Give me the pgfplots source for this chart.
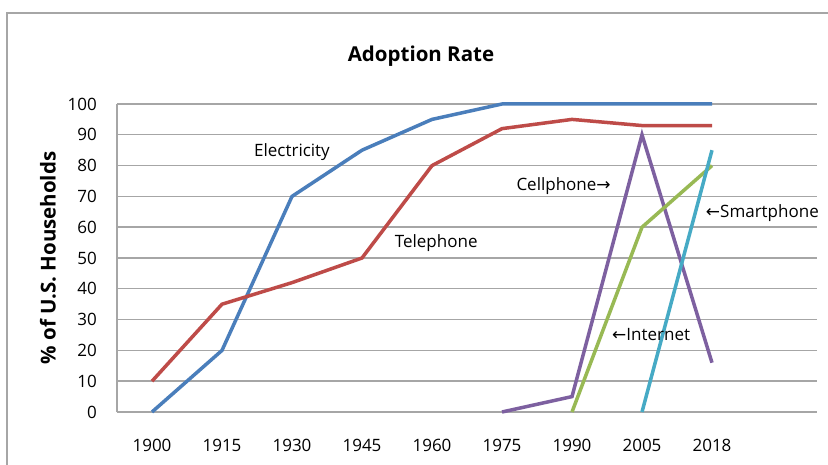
\documentclass[border=0pt]{standalone}
\usepackage{pgfplots}
\pgfplotsset{compat=1.18}
\usepackage{fontspec}
\setmainfont{Open Sans}
\newfontfamily\arrowfont{DejaVu Sans}
\definecolor{elec}{HTML}{4A7EBB}
\definecolor{tele}{HTML}{BE4B48}
\definecolor{cell}{HTML}{7D60A0}
\definecolor{inet}{HTML}{98B954}
\definecolor{smart}{HTML}{46AAC5}
\definecolor{gridc}{HTML}{A6A6A6}
\newcommand{\ra}{{\arrowfont\fontsize{17bp}{18bp}\selectfont →}}
\newcommand{\la}{{\arrowfont\fontsize{17bp}{18bp}\selectfont ←}}
\begin{document}
\begin{tikzpicture}
\useasboundingbox (0,0) rectangle (828bp,465bp);
\fill[white] (0,0) rectangle (828bp,465bp);
\draw[gridc, line width=1.6bp] (7bp,-2bp) -- (7bp,452bp) -- (830bp,452bp);
\node[anchor=base, font=\bfseries\fontsize{20.5bp}{24bp}\selectfont] at (421bp,403bp) {Adoption Rate};
\node[rotate=90, font=\bfseries\fontsize{20.5bp}{24bp}\selectfont] at (48bp,207bp) {\% of U.S. Households};
\begin{axis}[
  at={(117bp,53bp)}, anchor=south west,
  scale only axis, width=700bp, height=308bp,
  xmin=-0.5, xmax=9.5, ymin=0, ymax=100,
  xtick={0,1,2,3,4,5,6,7,8},
  xticklabels={1900,1915,1930,1945,1960,1975,1990,2005,2018},
  ytick={0,10,...,100},
  major tick length=0pt,
  axis x line*=bottom, axis y line*=left,
  axis line style={gridc, line width=1.6bp, -},
  ymajorgrids, grid style={gridc, line width=1.4bp},
  /pgf/number format/assume math mode=true,
  tick label style={font=\fontsize{17bp}{20bp}\selectfont, inner sep=0pt},
  yticklabel style={anchor=east, xshift=-20bp},
  xticklabel style={anchor=north, yshift=-27bp},
  clip=false,
]
\addplot[elec, line width=3.5bp] coordinates {(0,0) (1,20) (2,70) (3,85) (4,95) (5,100) (6,100) (7,100) (8,100)};
\addplot[tele, line width=3.5bp] coordinates {(0,10) (1,35) (2,42) (3,50) (4,80) (5,92) (6,95) (7,93) (8,93)};
\addplot[cell, line width=3.5bp] coordinates {(5,0) (6,5) (7,90) (8,16)};
\addplot[inet, line width=3.5bp] coordinates {(6,0) (7,60) (8,80)};
\addplot[smart, line width=3.5bp] coordinates {(7,0) (8,85)};
\node[font=\fontsize{17bp}{20bp}\selectfont] at (axis cs:2.0,84.4) {Electricity};
\node[font=\fontsize{17bp}{20bp}\selectfont] at (axis cs:4.06,54.9) {Telephone};
\node[font=\fontsize{17bp}{20bp}\selectfont] at (axis cs:5.88,73.2) {Cellphone\ra};
\node[font=\fontsize{17bp}{20bp}\selectfont] at (axis cs:8.72,64.6) {\la Smartphone};
\node[font=\fontsize{17bp}{20bp}\selectfont] at (axis cs:7.13,25) {\la Internet};
\end{axis}
\end{tikzpicture}
\end{document}
